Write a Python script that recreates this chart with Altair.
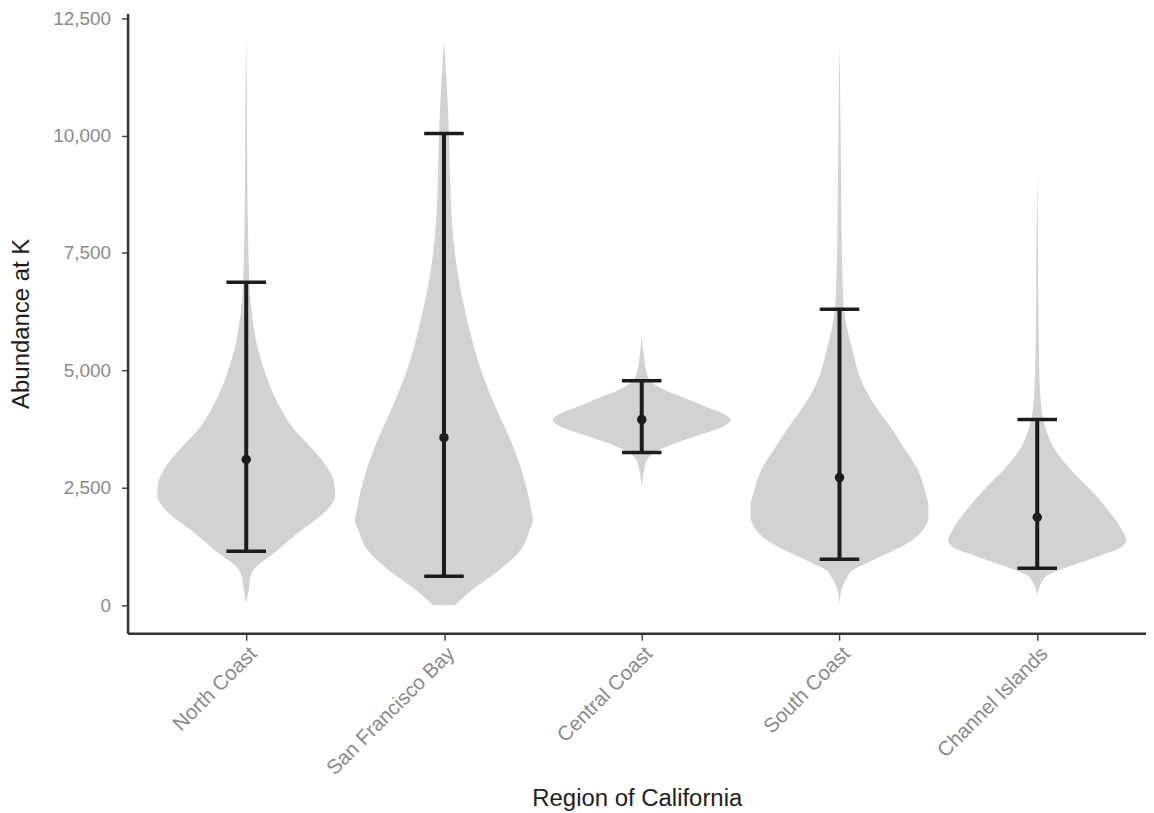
import json
import altair as alt
import pandas as pd

regions = ["North Coast", "San Francisco Bay", "Central Coast", "South Coast", "Channel Islands"]

# Violin outlines: abundance value and relative density (1 = widest)
nc_val = [12050, 11000, 10000, 9000, 8000, 7300, 6880, 6400, 5930, 5500, 5070, 4600, 4200, 3760,
          3330, 2900, 2600, 2350, 2040, 1800, 1590, 1350, 1120, 910, 740, 560, 300, 40]
nc_den = [0, 0.007, 0.010, 0.013, 0.020, 0.028, 0.034, 0.051, 0.084, 0.124, 0.191, 0.281, 0.382, 0.528,
          0.742, 0.921, 0.989, 1.0, 0.915, 0.770, 0.615, 0.462, 0.320, 0.169, 0.079, 0.045, 0.026, 0]

sf_val = [12000, 11120, 10000, 8530, 7660, 6790, 5920, 5070, 4200, 3330, 2460, 2040, 1800, 1590,
          1170, 740, 300, 0]
sf_den = [0, 0.030, 0.056, 0.079, 0.112, 0.180, 0.281, 0.404, 0.584, 0.787, 0.933, 0.978, 1.0, 0.960,
          0.860, 0.620, 0.300, 0.125]

cc_val = [5750, 5240, 4880, 4775, 4670, 4540, 4410, 4200, 4070, 3940, 3810, 3590, 3420, 3250,
          3080, 2820, 2550]
cc_den = [0, 0.028, 0.067, 0.100, 0.170, 0.303, 0.483, 0.753, 0.921, 1.0, 0.921, 0.596, 0.337, 0.146,
          0.056, 0.022, 0]

sc_val = [12000, 10300, 8500, 7200, 6300, 5500, 4630, 4200, 3760, 3330, 2900, 2460, 2100, 1870,
          1590, 1420, 1170, 1000, 870, 740, 560, 390, 40]
sc_den = [0, 0.011, 0.020, 0.031, 0.051, 0.135, 0.281, 0.416, 0.584, 0.730, 0.876, 0.955, 1.0, 1.0,
          0.933, 0.843, 0.618, 0.427, 0.280, 0.146, 0.079, 0.034, 0]

ci_val = [9300, 7660, 5930, 4630, 3950, 3670, 3330, 2900, 2460, 2040, 1590, 1380, 1250, 1170,
          1050, 910, 785, 640, 450, 200]
ci_den = [0, 0.008, 0.015, 0.030, 0.067, 0.110, 0.191, 0.371, 0.596, 0.787, 0.955, 1.0, 0.960, 0.880,
          0.700, 0.500, 0.300, 0.120, 0.040, 0]

# Error bars and mean points
bar_low = [1145, 615, 3250, 975, 785]
bar_high = [6875, 10040, 4775, 6300, 3950]
means = [3100, 3565, 3950, 2715, 1870]

profiles = [(nc_val, nc_den), (sf_val, sf_den), (cc_val, cc_den), (sc_val, sc_den), (ci_val, ci_den)]

violin_rows = []
for i, (region, (vals, dens)) in enumerate(zip(regions, profiles)):
    for v, d in zip(vals, dens):
        violin_rows.append({"region": region, "pos": float(i + 1), "abund": float(v), "dens": float(d)})
violin_df = pd.DataFrame(violin_rows)

stats_df = pd.DataFrame({
    "region": regions,
    "pos": [float(i + 1) for i in range(len(regions))],
    "lo": bar_low,
    "hi": bar_high,
    "mean": means,
})

FONT = "Liberation Sans"
label_expr = json.dumps(regions) + "[datum.value - 1]"

x_scale = alt.Scale(domain=[0.4, 5.55], nice=False, zero=False)
y_scale = alt.Scale(domain=[-600, 12600], nice=False, zero=False)

x_axis = alt.Axis(
    title="Region of California",
    values=[1, 2, 3, 4, 5],
    labelExpr=label_expr,
    labelAngle=-45,
    labelAlign="right",
    labelBaseline="top",
    labelPadding=3,
    labelFontSize=20.5,
    labelColor="#8a8a8a",
    labelFont=FONT,
    titleFont=FONT,
    titleFontSize=24,
    titleFontWeight="normal",
    titleColor="#1e1e1e",
    titlePadding=8,
    tickSize=7,
    tickColor="#444444",
    tickWidth=1.5,
    domainColor="#333333",
    domainWidth=2.5,
    grid=False,
)

y_axis = alt.Axis(
    title="Abundance at K",
    values=[0, 2500, 5000, 7500, 10000, 12500],
    format=",.0f",
    labelFontSize=19,
    labelColor="#8a8a8a",
    labelFont=FONT,
    labelPadding=11,
    titleFont=FONT,
    titleFontSize=24,
    titleFontWeight="normal",
    titleColor="#1e1e1e",
    titlePadding=19,
    tickSize=6,
    tickColor="#444444",
    tickWidth=1.5,
    domainColor="#333333",
    domainWidth=2.5,
    grid=False,
)

violins = alt.Chart(violin_df).transform_calculate(
    xl="datum.pos - 0.45 * datum.dens",
    xr="datum.pos + 0.45 * datum.dens",
).mark_area(orient="horizontal", interpolate="monotone", color="#d1d2d4").encode(
    y=alt.Y("abund:Q", scale=y_scale, axis=y_axis),
    x=alt.X("xl:Q", scale=x_scale, axis=x_axis),
    x2=alt.X2("xr:Q"),
    detail=alt.Detail("region:N"),
)

stems = alt.Chart(stats_df).mark_rule(color="#1c1c1c", strokeWidth=4).encode(
    x="pos:Q",
    y="lo:Q",
    y2="hi:Q",
)

caps = alt.Chart(stats_df).transform_fold(["lo", "hi"], as_=["end", "level"]).transform_calculate(
    cl="datum.pos - 0.1",
    cr="datum.pos + 0.1",
).mark_rule(color="#1c1c1c", strokeWidth=3.5).encode(
    x="cl:Q",
    x2="cr:Q",
    y="level:Q",
)

dots = alt.Chart(stats_df).mark_circle(color="#1c1c1c", size=90, opacity=1).encode(
    x="pos:Q",
    y="mean:Q",
)

chart = alt.layer(violins, stems, caps, dots).properties(
    width=1022,
    height=622,
    autosize=alt.AutoSizeParams(type="none"),
    padding={"left": 120, "top": 4, "right": 0, "bottom": 185},
    background="white",
).configure_view(stroke=None)

chart.save("out.html", embed_options={"renderer": "svg", "actions": False})
